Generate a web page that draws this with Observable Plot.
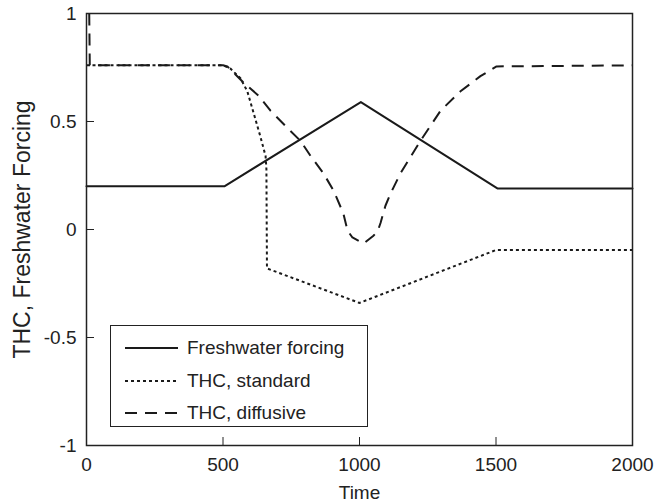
<!DOCTYPE html>
<html>
<head>
<meta charset="utf-8">
<script src="https://cdn.jsdelivr.net/npm/d3@7"></script>
<script src="https://cdn.jsdelivr.net/npm/@observablehq/plot@0.6"></script>
<style>
  html, body { margin: 0; padding: 0; background: #fff; }
  #wrap { position: relative; width: 654px; height: 503px; font-family: "Liberation Sans", Arial, sans-serif; color: #222; }
  #legend { position: absolute; left: 110px; top: 325px; width: 256px; height: 100px; border: 1.5px solid #222; background: #fff; }
  .row { position: absolute; left: 0; height: 24px; display: flex; align-items: center; font-size: 19px; }
  .row svg { margin-left: 14px; margin-right: 9px; }
</style>
</head>
<body>
<div id="wrap"></div>
<script>
// Tick values
const xTicks = [0, 500, 1000, 1500, 2000];
const yTicks = [-1, -0.5, 0, 0.5, 1];

// Freshwater forcing
const fwTime = [0, 505, 1005, 1505, 2000];
const fwValue = [0.2, 0.2, 0.59, 0.19, 0.19];

// THC, standard
const stdTime = [0, 500, 527, 564, 589, 612, 637, 656, 659, 661, 1000, 1500, 2000];
const stdValue = [0.76, 0.76, 0.745, 0.70, 0.64, 0.54, 0.43, 0.34, 0.28, -0.18, -0.34, -0.095, -0.095];

// THC, diffusive
const difTime = [10, 12, 500, 516, 575, 630, 674, 736, 784, 821, 868, 905, 941, 956, 974, 1015, 1050, 1066, 1077, 1095, 1114, 1150, 1223, 1297, 1370, 1443, 1502, 2000];
const difValue = [1.0, 0.76, 0.76, 0.755, 0.68, 0.62, 0.55, 0.47, 0.41, 0.34, 0.26, 0.18, 0.074, -0.005, -0.037, -0.065, -0.03, -0.01, 0.03, 0.11, 0.167, 0.26, 0.41, 0.55, 0.64, 0.71, 0.755, 0.76];

const seriesNames = ["Freshwater forcing", "THC, standard", "THC, diffusive"];
const xLabel = "Time";
const yLabel = "THC, Freshwater Forcing";

const toRows = (t, v) => t.map((d, i) => ({time: d, value: v[i]}));
const fw = toRows(fwTime, fwValue);
const std = toRows(stdTime, stdValue);
const dif = toRows(difTime, difValue);

const ink = "#1a1a1a";

const chart = Plot.plot({
  width: 654,
  height: 503,
  marginLeft: 86,
  marginRight: 22,
  marginTop: 13,
  marginBottom: 58,
  style: {fontFamily: "'Liberation Sans', Arial, sans-serif", fontSize: "19px", color: "#222", background: "white", overflow: "visible"},
  x: {domain: [0, 2000]},
  y: {domain: [-1, 1]},
  marks: [
    Plot.line(fw, {x: "time", y: "value", stroke: ink, strokeWidth: 2}),
    Plot.line(std, {x: "time", y: "value", stroke: ink, strokeWidth: 2, strokeDasharray: "3,3", strokeLinecap: "butt"}),
    Plot.line(dif, {x: "time", y: "value", stroke: ink, strokeWidth: 2, strokeDasharray: "12,8", strokeLinecap: "butt"}),
    Plot.frame({stroke: "#222", strokeWidth: 1.5}),
    Plot.axisX(xTicks, {tickSize: -8, tickPadding: 20, stroke: "#222", tickFormat: d => String(d), label: xLabel, labelAnchor: "center", labelArrow: "none", labelOffset: 53}),
    Plot.axisY(yTicks, {tickSize: -8, tickPadding: 18, stroke: "#222", tickFormat: d => String(d), label: null}),
    Plot.axisY([], {tickSize: 0, label: yLabel, labelAnchor: "center", labelArrow: "none", labelOffset: 73, fontSize: 23})
  ]
});

const wrap = document.getElementById("wrap");
wrap.appendChild(chart);

// Legend
const legend = document.createElement("div");
legend.id = "legend";
const dashes = [null, "3,3", "12,8"];
const rowTops = [10, 43, 75];
seriesNames.forEach((name, i) => {
  const row = document.createElement("div");
  row.className = "row";
  row.style.top = rowTops[i] + "px";
  const svgNS = "http://www.w3.org/2000/svg";
  const s = document.createElementNS(svgNS, "svg");
  s.setAttribute("width", "53");
  s.setAttribute("height", "24");
  const ln = document.createElementNS(svgNS, "line");
  ln.setAttribute("x1", "0"); ln.setAttribute("x2", "53");
  ln.setAttribute("y1", "12"); ln.setAttribute("y2", "12");
  ln.setAttribute("stroke", ink);
  ln.setAttribute("stroke-width", "2");
  if (dashes[i]) ln.setAttribute("stroke-dasharray", dashes[i]);
  s.appendChild(ln);
  row.appendChild(s);
  const sp = document.createElement("span");
  sp.textContent = name;
  row.appendChild(sp);
  legend.appendChild(row);
});
wrap.appendChild(legend);
</script>
</body>
</html>
